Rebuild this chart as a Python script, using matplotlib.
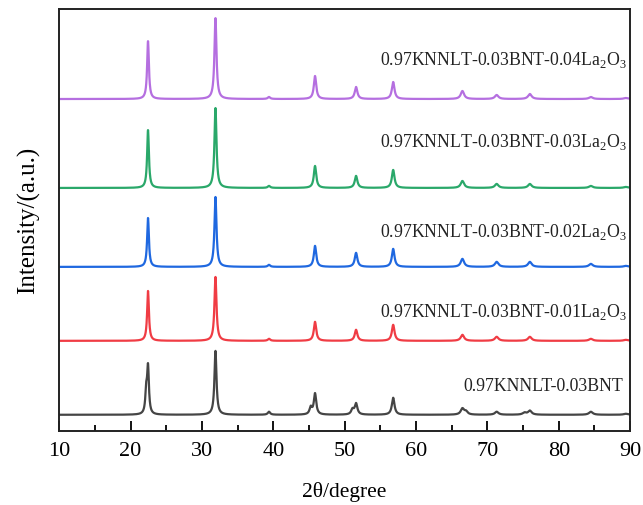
import numpy as np
import matplotlib.pyplot as plt

plt.rcParams['font.family'] = ['Liberation Serif', 'DejaVu Serif']
plt.rcParams['mathtext.fontset'] = 'custom'
plt.rcParams['mathtext.rm'] = 'Liberation Serif'

# peak positions (2theta, degree)
peak_pos = [22.2, 22.45, 31.9, 39.4, 45.25, 45.85, 51.1, 51.6, 56.8,
            66.5, 67.0, 71.3, 75.2, 75.95, 84.5, 89.4]
peak_hwhm = [0.15, 0.15, 0.17, 0.2, 0.2, 0.2, 0.22, 0.22, 0.22,
             0.28, 0.28, 0.3, 0.3, 0.3, 0.32, 0.35]

# peak heights above each baseline (arbitrary units)
h_0 = [21, 46, 64, 3, 7, 21, 5, 11, 17, 6, 3, 3, 2, 4, 3, 1]
h_1 = [0, 50, 64, 2, 0, 19, 0, 11, 16, 6, 0, 4, 0, 4, 2, 1]
h_2 = [0, 49, 70, 2, 0, 21, 0, 14, 18, 8, 0, 5, 0, 5, 3, 1]
h_3 = [0, 58, 80, 2, 0, 22, 0, 12, 18, 7, 0, 4, 0, 4, 2, 1]
h_4 = [0, 58, 81, 2, 0, 23, 0, 12, 17, 8, 0, 4, 0, 5, 2, 1]

baselines = [16, 90, 164, 243, 332]
heights = [h_0, h_1, h_2, h_3, h_4]
colors = ['#454545', '#f03c44', '#1f68e0', '#2aa86a', '#b56fe0']
labels = ['0.97KNNLT-0.03BNT',
          '0.97KNNLT-0.03BNT-0.01La$_2$O$_3$',
          '0.97KNNLT-0.03BNT-0.02La$_2$O$_3$',
          '0.97KNNLT-0.03BNT-0.03La$_2$O$_3$',
          '0.97KNNLT-0.03BNT-0.04La$_2$O$_3$']
label_x = [89.0, 89.6, 89.6, 89.6, 89.6]
label_y = [44, 119, 199, 289, 371]

fig = plt.figure(figsize=(6.43, 5.05), dpi=100)
ax = fig.add_axes([0.092, 0.147, 0.888, 0.835])

x = np.linspace(10, 90, 4000)
for base, h, c, lab, lx, ly in zip(baselines, heights, colors, labels, label_x, label_y):
    y = np.full_like(x, base, dtype=float)
    for p, w, a in zip(peak_pos, peak_hwhm, h):
        y += a * w**2 / ((x - p)**2 + w**2)
    ax.plot(x, y, color=c, lw=1.6)
    ax.text(lx, ly, lab, ha='right', va='center', fontsize=12.8, color='#222222')

ax.set_xlim(10, 90)
ax.set_ylim(0, 422)
ax.set_xticks(range(10, 91, 10))
ax.set_xticks(range(15, 90, 10), minor=True)
ax.set_yticks([])
ax.tick_params(axis='x', which='major', direction='in', length=7, width=1.3, labelsize=16, pad=8)
ax.tick_params(axis='x', which='minor', direction='in', length=4, width=1.3)
for s in ax.spines.values():
    s.set_linewidth(1.4)
    s.set_color('#222222')

ax.set_xlabel('2θ/degree', fontsize=15.5, labelpad=15)
ax.set_ylabel('Intensity/(a.u.)', fontsize=18, labelpad=14)

fig.savefig('out.png', dpi=100)
